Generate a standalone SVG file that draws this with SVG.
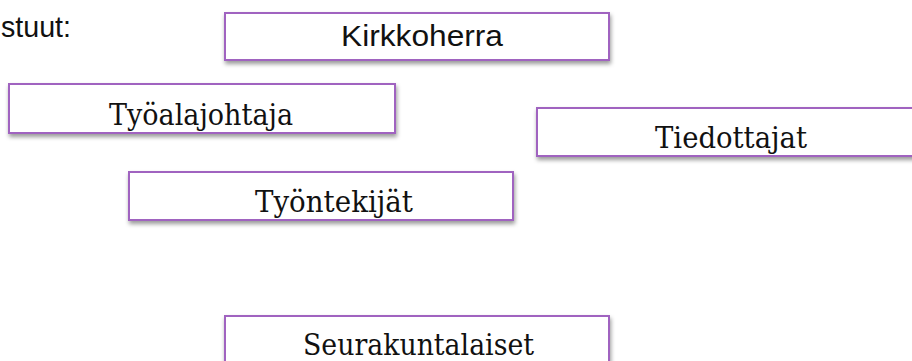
<svg xmlns="http://www.w3.org/2000/svg" width="912" height="361" viewBox="0 0 912 361">
  <defs>
    <filter id="shadow" x="-5%" y="-20%" width="110%" height="160%">
      <feDropShadow dx="1" dy="3" stdDeviation="2" flood-color="#000" flood-opacity="0.4"/>
    </filter>
    <style>
      .box { fill: #ffffff; stroke: #a064c0; stroke-width: 2; filter: url(#shadow); }
      .serif { font-family: "DejaVu Serif", "Liberation Serif", serif; font-size: 30px; fill: #111; }
      .sans { font-family: "Liberation Sans", Arial, sans-serif; font-size: 30px; fill: #111; }
    </style>
  </defs>
  <rect width="912" height="361" fill="#ffffff"/>
  <text class="sans" x="1" y="37" textLength="70" lengthAdjust="spacingAndGlyphs">stuut:</text>
  <g id="kirkkoherra">
    <rect class="box" x="225" y="13" width="384" height="47"/>
    <text class="sans" x="341" y="46" font-size="31" textLength="162" lengthAdjust="spacingAndGlyphs">Kirkkoherra</text>
  </g>
  <g id="tyoalajohtaja">
    <rect class="box" x="9" y="84" width="386" height="49"/>
    <text class="serif" x="109" y="125" textLength="184" lengthAdjust="spacingAndGlyphs">Työalajohtaja</text>
  </g>
  <g id="tiedottajat">
    <rect class="box" x="537" y="108" width="385" height="48"/>
    <text class="serif" x="655" y="148" textLength="152" lengthAdjust="spacingAndGlyphs">Tiedottajat</text>
  </g>
  <g id="tyontekijat">
    <rect class="box" x="129" y="172" width="384" height="48"/>
    <text class="serif" x="255" y="212" textLength="158" lengthAdjust="spacingAndGlyphs">Työntekijät</text>
  </g>
  <g id="seurakuntalaiset">
    <rect class="box" x="225" y="316" width="384" height="60"/>
    <text class="serif" x="303" y="355" textLength="231" lengthAdjust="spacingAndGlyphs">Seurakuntalaiset</text>
  </g>
  <g id="connectors"/>
</svg>
